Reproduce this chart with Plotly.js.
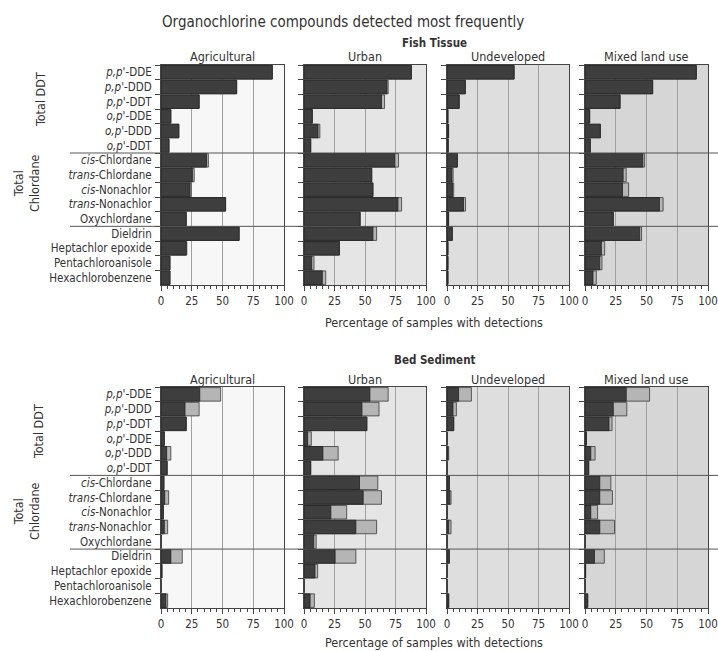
<!DOCTYPE html>
<html>
<head>
<meta charset="utf-8">
<script src="https://cdn.plot.ly/plotly-3.0.1.min.js"></script>
<style>html,body{margin:0;padding:0;background:#fff;}#chart{width:718px;height:651px;}</style>
</head>
<body>
<div id="chart"></div>
<script>
// ---- data ----
const compounds = [
  "<i>p,p'</i>-DDE", "<i>p,p'</i>-DDD", "<i>p,p'</i>-DDT",
  "<i>o,p'</i>-DDE", "<i>o,p'</i>-DDD", "<i>o,p'</i>-DDT",
  "<i>cis</i>-Chlordane", "<i>trans</i>-Chlordane", "<i>cis</i>-Nonachlor",
  "<i>trans</i>-Nonachlor", "Oxychlordane",
  "Dieldrin", "Heptachlor epoxide", "Pentachloroanisole", "Hexachlorobenzene"
];
const landUses = ["Agricultural", "Urban", "Undeveloped", "Mixed land use"];
const xTicks = [0, 25, 50, 75, 100];

// Fish tissue: dark bars and light (total) bars
const fishAgDark     = [90.5, 61.5, 31, 8, 14.5, 6.5, 37, 25.5, 23.5, 52.5, 20.5, 63.5, 20.5, 7.3, 7.3];
const fishAgLight    = [90.5, 61.5, 31, 8, 14.5, 6.5, 38.5, 27, 24.5, 52.5, 20.5, 63.5, 21, 7.3, 7.3];
const fishUrbDark    = [88, 68, 63.5, 6.8, 11.5, 5.5, 74.5, 55.5, 56.5, 77, 46, 56.5, 29, 6.3, 15];
const fishUrbLight   = [88, 69, 66, 6.8, 13, 5.5, 77.5, 55.5, 56.5, 80, 46, 59.5, 29, 8.2, 17.8];
const fishUndDark    = [55, 15, 10, 0.8, 1.3, 1, 8.5, 4, 4.5, 13.5, 1.3, 4.3, 0.8, 0.8, 0.8];
const fishUndLight   = [55, 15, 10, 0.8, 1.3, 1, 8.5, 5, 5.5, 15.2, 1.3, 4.3, 0.8, 0.8, 0.8];
const fishMixDark    = [90.5, 55, 28.5, 3.8, 12.5, 4.3, 47, 31, 30.5, 60.5, 23, 44.5, 13.3, 12, 6.5];
const fishMixLight   = [90.5, 55, 28.5, 3.8, 12.5, 4.3, 48.5, 33.5, 35.5, 63.5, 23, 46, 16, 13.8, 9.2];

// Bed sediment: dark bars and light (total) bars
const sedAgDark      = [31.5, 19.5, 20.5, 2.7, 4.6, 5, 2.4, 3, 1.9, 2.7, 0, 8, 0.8, 0, 4];
const sedAgLight     = [48.5, 31, 20.5, 2.7, 8, 5, 2.4, 6.2, 1.9, 5.4, 0, 17.3, 0.8, 0, 5.4];
const sedUrbDark     = [54, 47.5, 51.5, 3, 15.5, 5.5, 45.5, 48.5, 22, 42.5, 8, 25.5, 9, 0, 5];
const sedUrbLight    = [69, 61.5, 51.5, 6, 28, 5.5, 60.5, 63.5, 35, 59.5, 10, 42.5, 11.2, 0, 8.5];
const sedUndDark     = [9.5, 4.9, 5.5, 0, 0.8, 0, 1.9, 2.2, 0, 1.4, 0, 1.9, 0, 0, 1.4];
const sedUndLight    = [20, 7.7, 5.5, 0, 1.4, 0, 1.9, 3.3, 0, 3.3, 0, 1.9, 0, 0, 1.4];
const sedMixDark     = [33.5, 23, 19.5, 1.1, 4.7, 3, 12, 12, 4.7, 12, 0, 7.7, 0.5, 0, 2.2];
const sedMixLight    = [52.5, 34, 22, 1.1, 8.2, 3, 21, 22.3, 10.2, 24, 0, 15.7, 0.5, 0, 2.2];

const panels = [
  [fishAgDark, fishAgLight], [fishUrbDark, fishUrbLight], [fishUndDark, fishUndLight], [fishMixDark, fishMixLight],
  [sedAgDark, sedAgLight], [sedUrbDark, sedUrbLight], [sedUndDark, sedUndLight], [sedMixDark, sedMixLight]
];

// ---- layout geometry (pixels) ----
const W = 718, H = 651;
const colPx = [[161, 284], [304, 426], [447, 569], [585, 708]];
const rowPx = [[65, 285], [387, 608]];
const bgColors = ["#f7f7f7", "#e5e5e5", "#dedede", "#d6d6d6"];
const FONT = "Liberation Sans Narrow, DejaVu Sans Condensed, Arial Narrow, sans-serif";
const TXT = "#333333";
const px = x => x / W;
const py = y => 1 - y / H;

const traces = [];
const layout = {
  width: W, height: H,
  margin: {l: 0, r: 0, t: 0, b: 0},
  paper_bgcolor: "#ffffff",
  barmode: "overlay",
  bargap: 0.08,
  showlegend: false,
  font: {family: FONT, color: TXT, size: 12},
  annotations: [],
  shapes: []
};

for (let i = 0; i < 8; i++) {
  const r = Math.floor(i / 4), c = i % 4;
  const n = i + 1;
  const xa = n === 1 ? "x" : "x" + n;
  const ya = n === 1 ? "y" : "y" + n;
  const [dark, light] = panels[i];
  traces.push({
    type: "bar", orientation: "h", y: compounds, x: light,
    xaxis: xa, yaxis: ya,
    marker: {color: "#b5b5b5", line: {color: "#3a3a3a", width: 0.8}},
    hoverinfo: "x+y"
  });
  traces.push({
    type: "bar", orientation: "h", y: compounds, x: dark,
    xaxis: xa, yaxis: ya,
    marker: {color: "#3e3e3e", line: {color: "#222222", width: 0.8}},
    hoverinfo: "x+y"
  });
  layout["xaxis" + (n === 1 ? "" : n)] = {
    domain: [px(colPx[c][0]), px(colPx[c][1])],
    anchor: ya,
    range: [0, 100],
    tickvals: xTicks,
    ticktext: xTicks.map(String),
    ticks: "outside", ticklen: 5, tickcolor: "#444",
    minor: {dtick: 5, ticks: "outside", ticklen: 3, tickcolor: "#444", showgrid: false},
    showgrid: true, gridcolor: "#a0a0a0", gridwidth: 1,
    showline: true, linecolor: "#444", linewidth: 1, mirror: true,
    zeroline: false,
    ticklabeloverflow: "allow",
    tickfont: {family: FONT, size: 11.5, color: TXT},
    fixedrange: true
  };
  layout["yaxis" + (n === 1 ? "" : n)] = {
    domain: [py(rowPx[r][1]), py(rowPx[r][0])],
    anchor: xa,
    type: "category",
    categoryorder: "array", categoryarray: compounds,
    autorange: "reversed",
    tickmode: "linear", tick0: 0, dtick: 1,
    tickson: "boundaries",
    ticks: "outside", ticklen: 5, tickcolor: "#444",
    showticklabels: c === 0,
    ticklabelstandoff: 6,
    showgrid: false,
    showline: true, linecolor: "#444", linewidth: 1, mirror: true,
    tickfont: {family: FONT, size: 11.5, color: TXT},
    fixedrange: true
  };
  layout.shapes.push({
    type: "rect", layer: "below",
    xref: xa + " domain", yref: ya + " domain",
    x0: 0, x1: 1, y0: 0, y1: 1,
    fillcolor: bgColors[c], line: {width: 0}
  });
  // panel title
  layout.annotations.push({
    text: landUses[c], showarrow: false,
    xref: "paper", yref: "paper",
    x: px((colPx[c][0] + colPx[c][1]) / 2), y: py(rowPx[r][0] - 8),
    xanchor: "center", yanchor: "middle",
    font: {family: FONT, size: 12.5, color: TXT}
  });
}

// group divider lines across all panels
[["y", 5.5], ["y", 10.5], ["y5", 5.5], ["y5", 10.5]].forEach(([yr, v]) => {
  layout.shapes.push({
    type: "line", xref: "paper", yref: yr,
    x0: px(70), x1: 1, y0: v, y1: v,
    line: {color: "#555", width: 1}
  });
});

const ann = (text, x, y, size, opts) => layout.annotations.push(Object.assign({
  text, showarrow: false, xref: "paper", yref: "paper",
  x: px(x), y: py(y), xanchor: "center", yanchor: "middle",
  font: {family: FONT, size, color: TXT}
}, opts || {}));

ann("Organochlorine compounds detected most frequently", 160, 22, 15, {xanchor: "left"});
ann("<b>Fish Tissue</b>", 434, 43, 11.5);
ann("<b>Bed Sediment</b>", 434, 360, 11.5);
ann("Percentage of samples with detections", 434, 322, 12.5);
ann("Percentage of samples with detections", 434, 642, 12.5);
// group labels
ann("Total DDT", 40, 100, 12.5, {textangle: -90});
ann("Total<br>Chlordane", 26, 183, 12.5, {textangle: -90});
ann("Total DDT", 38, 432, 12.5, {textangle: -90});
ann("Total<br>Chlordane", 26, 511, 12.5, {textangle: -90});

Plotly.newPlot("chart", traces, layout, {displayModeBar: false, staticPlot: true});
</script>
</body>
</html>
